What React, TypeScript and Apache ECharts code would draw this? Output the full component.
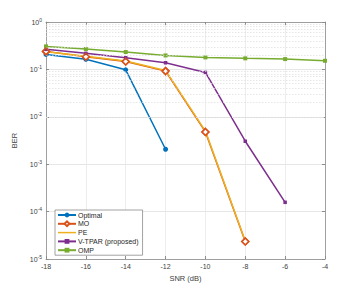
import React, { useEffect, useRef } from 'react';
import * as echarts from 'echarts';

const snr = [-18, -16, -14, -12, -10, -8, -6, -4];
const optimal = [0.207, 0.163, 0.098, 0.00207];
const mo = [0.24, 0.185, 0.147, 0.092, 0.0048, 2.34e-5];
const pe = [0.235, 0.19, 0.15, 0.095, 0.005, 2.4e-5];
const vtpar = [0.265, 0.218, 0.176, 0.138, 0.0863, 0.00305, 1.57e-4];
const omp = [0.306, 0.269, 0.232, 0.197, 0.179, 0.171, 0.165, 0.152];
const names = ['Optimal', 'MO', 'PE', 'V-TPAR (proposed)', 'OMP'];
const colors = ['#0072BD', '#D95319', '#EDB120', '#7E2F8E', '#77AC30'];
const decades = [-5, -4, -3, -2, -1];
const minorMult = [2, 3, 4, 5, 6, 7, 8, 9];

const pairs = (vals: number[]) => vals.map((v, i) => [snr[i], v]);

export default function App() {
  const ref = useRef<HTMLDivElement>(null);
  useEffect(() => {
    const chart = echarts.init(ref.current!, undefined, { renderer: 'svg' });
    const minorVals: number[] = [];
    decades.forEach((d) => minorMult.forEach((m) => minorVals.push(m * Math.pow(10, d))));
    const font = 'Liberation Sans, Arial, sans-serif';
    const axisColor = '#8c8c8c';
    const labelColor = '#404040';
    const yFmt = (v: number) => `10{s|${Math.round(Math.log10(v))}}`;
    const rich = {
      s: { fontSize: 5, fontFamily: font, color: labelColor, verticalAlign: 'bottom', padding: [0, 0, 5, 0] },
    };
    const line = (i: number, data: number[], extra: any) => ({
      type: 'line',
      name: names[i],
      data: pairs(data),
      color: colors[i],
      xAxisIndex: 0,
      yAxisIndex: 0,
      lineStyle: { width: 1.5, color: colors[i] },
      ...extra,
    });
    const legendData = names.map((n) =>
      n === 'PE' ? { name: n, icon: 'path://M0,0 L18,0 L18,1.5 L0,1.5 Z' } : { name: n }
    );
    chart.setOption({
      animation: false,
      grid: { left: 46, right: 35, top: 22, bottom: 32 },
      xAxis: [
        {
          type: 'value',
          min: -18,
          max: -4,
          interval: 2,
          name: 'SNR (dB)',
          nameLocation: 'middle',
          nameGap: 15,
          nameTextStyle: { fontSize: 7.5, color: labelColor, fontFamily: font },
          axisLine: { lineStyle: { color: axisColor, width: 0.8 } },
          axisTick: { inside: true, length: 3, lineStyle: { color: axisColor } },
          axisLabel: { fontSize: 7, color: labelColor, fontFamily: font, margin: 4 },
          splitLine: { show: true, lineStyle: { color: '#e8e8e8', width: 0.8 } },
        },
        {
          type: 'value',
          position: 'top',
          min: -18,
          max: -4,
          interval: 2,
          axisLine: { show: true, lineStyle: { color: axisColor, width: 0.8 } },
          axisTick: { show: true, inside: true, length: 3, lineStyle: { color: axisColor } },
          axisLabel: { show: false },
          splitLine: { show: false },
        },
      ],
      yAxis: [
        {
          type: 'log',
          logBase: 10,
          min: 1e-5,
          max: 1,
          name: 'BER',
          nameLocation: 'middle',
          nameGap: 21,
          nameTextStyle: { fontSize: 7.5, color: labelColor, fontFamily: font },
          axisLine: { show: true, lineStyle: { color: axisColor, width: 0.8 } },
          axisTick: { show: true, inside: true, length: 3, lineStyle: { color: axisColor } },
          axisLabel: { fontSize: 7, color: labelColor, fontFamily: font, margin: 4, formatter: yFmt, rich },
          splitLine: { show: true, lineStyle: { color: '#e0e0e0', width: 0.8 } },
        },
        {
          type: 'log',
          logBase: 10,
          min: 1e-5,
          max: 1,
          position: 'right',
          axisLine: { show: true, lineStyle: { color: axisColor, width: 0.8 } },
          axisTick: { show: true, inside: true, length: 3, lineStyle: { color: axisColor } },
          axisLabel: { show: false },
          splitLine: { show: false },
        },
      ],
      legend: {
        data: legendData,
        orient: 'vertical',
        left: 55,
        top: 210,
        itemWidth: 18,
        itemHeight: 6,
        itemGap: 1.8,
        padding: [1.5, 4, 1.5, 2],
        backgroundColor: '#ffffff',
        borderColor: '#8c8c8c',
        borderWidth: 0.8,
        borderRadius: 0,
        textStyle: { fontSize: 7, color: '#262626', fontFamily: font, padding: [0, 0, 0, -3] },
      },
      series: [
        {
          type: 'line',
          name: '_minor',
          data: [],
          xAxisIndex: 0,
          yAxisIndex: 0,
          silent: true,
          markLine: {
            silent: true,
            symbol: 'none',
            label: { show: false },
            lineStyle: { type: [1.5, 1.5], color: '#dcdcdc', width: 0.7 },
            data: minorVals.map((v) => ({ yAxis: v })),
          },
        },
        line(0, optimal, { symbol: 'circle', symbolSize: 5 }),
        line(1, mo, {
          symbol: 'diamond',
          symbolSize: 7,
          itemStyle: { color: '#ffffff', borderColor: colors[1], borderWidth: 1.5 },
        }),
        line(2, pe, { symbol: 'none', showSymbol: false }),
        line(3, vtpar, { symbol: 'rect', symbolSize: 3.5 }),
        line(4, omp, { symbol: 'rect', symbolSize: 4 }),
        {
          type: 'scatter',
          name: names[1],
          data: pairs(mo),
          z: 5,
          symbol: 'diamond',
          symbolSize: 7,
          itemStyle: { color: 'rgba(255,255,255,0)', borderColor: colors[1], borderWidth: 1.5 },
        },
      ],
    });
    return () => chart.dispose();
  }, []);
  return (
    <div
      ref={ref}
      style={{ position: 'fixed', left: 0, top: 0, width: 360, height: 291, background: '#ffffff' }}
    />
  );
}
